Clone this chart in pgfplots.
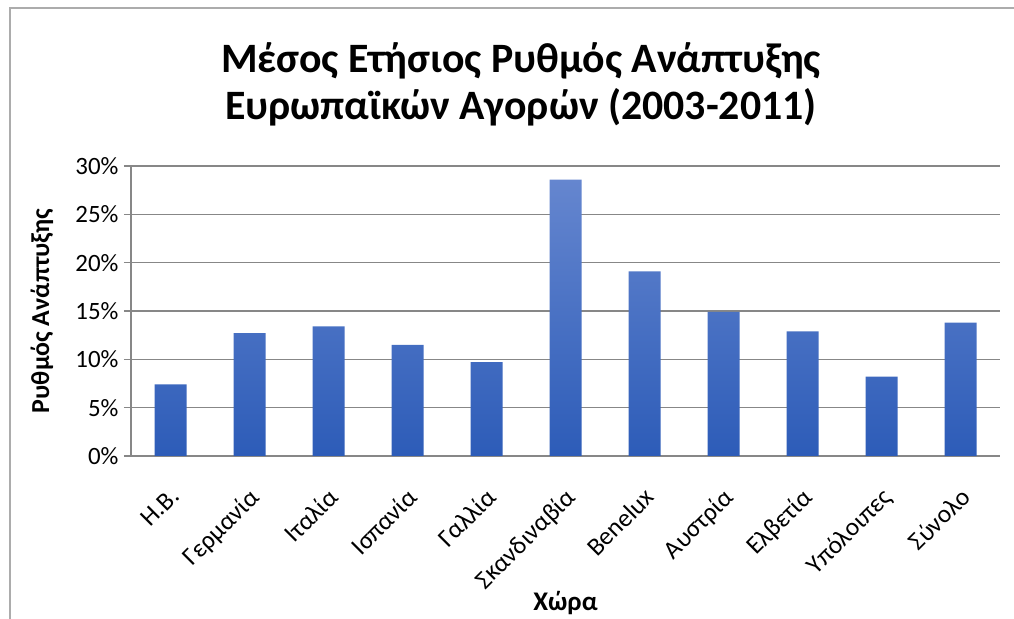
\documentclass[border=0pt]{standalone}
\usepackage{fontspec}
\setmainfont{Carlito}
\usepackage{pgfplots}
\pgfplotsset{compat=1.18}
\definecolor{gridc}{HTML}{878787}
\definecolor{bartop}{HTML}{6586CF}
\definecolor{barmid}{HTML}{3D6DCA}
\definecolor{barbot}{HTML}{2D5CB8}
\begin{document}
\begin{tikzpicture}
\path[use as bounding box] (0,0) rectangle (1014bp,619bp);
\draw[gray!65, line width=1.6bp] (10bp,0) -- (10bp,611bp) -- (1014bp,611bp);
\node[align=center, font=\fontsize{42}{47}\selectfont\bfseries] at (521bp,535bp)
  {Μέσος Ετήσιος Ρυθμός Ανάπτυξης\\Ευρωπαϊκών Αγορών (2003-2011)};
\begin{axis}[
  at={(131bp,163bp)}, anchor=south west,
  scale only axis, width=869bp, height=290bp,
  xmin=-0.5, xmax=10.5, ymin=0, ymax=30,
  axis x line*=bottom, axis y line*=left,
  axis line style={gridc, line width=1.4bp},
  ytick={0,5,...,30},
  yticklabel={\pgfmathprintnumber{\tick}\%},
  /pgf/number format/assume math mode=true,
  ymajorgrids, grid style={gridc, line width=1.4bp},
  ytick style={gridc, line width=1.4bp},
  tick align=outside, major tick length=7bp,
  xtick={0,...,10},
  xticklabels={Η.Β., Γερμανία, Ιταλία, Ισπανία, Γαλλία, Σκανδιναβία, Benelux, Αυστρία, Ελβετία, Υπόλοιπες, Σύνολο},
  x tick style={draw=none},
  minor xtick={-0.5,0.5,...,10.5},
  minor x tick style={gridc, line width=1.4bp},
  minor tick length=8bp,
  xticklabel style={rotate=45, anchor=north east, font=\fontsize{25.5}{28}\selectfont, xshift=-14bp, yshift=-12bp},
  yticklabel style={font=\fontsize{25}{28}\selectfont, xshift=-2bp},
  xlabel={Χώρα}, ylabel={Ρυθμός Ανάπτυξης},
  every axis x label/.style={at={(axis description cs:0.5,-0.507)}, anchor=center, font=\fontsize{27}{30}\selectfont\bfseries},
  every axis y label/.style={at={(axis description cs:-0.1024,0.5)}, anchor=center, rotate=90, font=\fontsize{26}{30}\selectfont\bfseries},
  clip=false,
]
\addplot[ybar, bar width=32bp, draw=none, top color=bartop, middle color=barmid, bottom color=barbot]
  coordinates {(0,7.4) (1,12.7) (2,13.4) (3,11.5) (4,9.7) (5,28.6) (6,19.1) (7,14.9) (8,12.9) (9,8.2) (10,13.8)};
\end{axis}
\end{tikzpicture}
\end{document}
